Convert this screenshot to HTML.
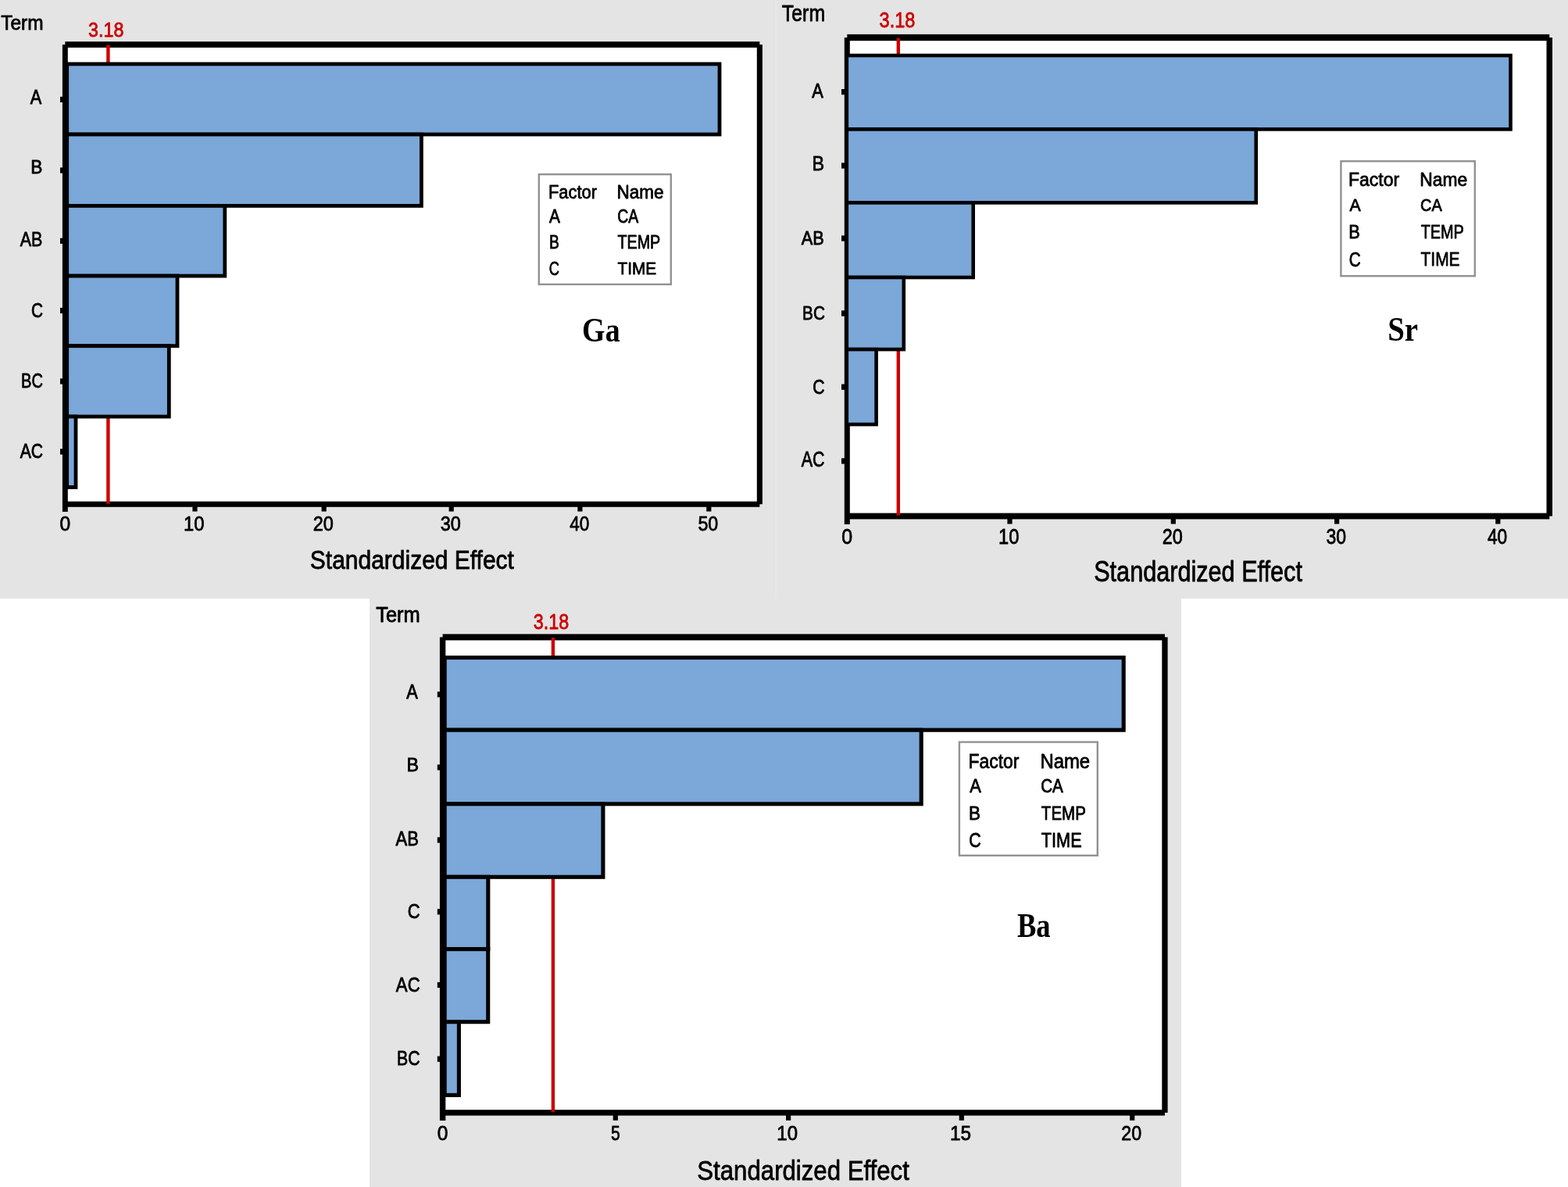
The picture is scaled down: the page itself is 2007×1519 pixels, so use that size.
<!DOCTYPE html>
<html><head><meta charset="utf-8"><style>
html,body{margin:0;padding:0;background:#fff;}
svg{display:block;}
</style></head><body>
<svg width="2007" height="1519" viewBox="0 0 2007 1519">
<rect x="0.00" y="0.00" width="2007.00" height="766.00" fill="#e4e4e4"/>
<rect x="473.00" y="766.00" width="1039.00" height="753.00" fill="#e4e4e4"/>
<rect x="992.30" y="0.00" width="1.50" height="766.00" fill="#e9e9e9"/>
<rect x="83.35" y="57.05" width="889.00" height="588.20" fill="#fff"/>
<rect x="83.35" y="53.20" width="889.00" height="7.70" fill="#000"/>
<rect x="83.35" y="641.70" width="889.00" height="7.10" fill="#000"/>
<rect x="79.90" y="57.05" width="6.90" height="597.85" fill="#000"/>
<rect x="968.80" y="57.05" width="7.10" height="588.20" fill="#000"/>
<rect x="136.20" y="57.55" width="4.40" height="587.15" fill="#cc0000"/>
<rect x="85.70" y="81.90" width="835.30" height="90.10" fill="#7ba7d9" stroke="#000" stroke-width="4.8"/>
<rect x="85.70" y="172.00" width="453.70" height="91.40" fill="#7ba7d9" stroke="#000" stroke-width="4.8"/>
<rect x="85.70" y="263.40" width="202.10" height="89.70" fill="#7ba7d9" stroke="#000" stroke-width="4.8"/>
<rect x="85.70" y="353.10" width="141.30" height="89.60" fill="#7ba7d9" stroke="#000" stroke-width="4.8"/>
<rect x="85.70" y="442.70" width="130.60" height="90.40" fill="#7ba7d9" stroke="#000" stroke-width="4.8"/>
<rect x="85.70" y="533.10" width="11.30" height="90.40" fill="#7ba7d9" stroke="#000" stroke-width="4.8"/>
<rect x="246.40" y="647.80" width="6.20" height="6.70" fill="#000"/>
<rect x="411.60" y="647.80" width="6.20" height="6.70" fill="#000"/>
<rect x="574.60" y="647.80" width="6.20" height="6.70" fill="#000"/>
<rect x="739.30" y="647.80" width="6.20" height="6.70" fill="#000"/>
<rect x="904.20" y="647.80" width="6.20" height="6.70" fill="#000"/>
<rect x="77.00" y="123.80" width="3.40" height="7.20" fill="#000"/>
<rect x="77.00" y="214.40" width="3.40" height="7.20" fill="#000"/>
<rect x="77.00" y="304.70" width="3.40" height="7.20" fill="#000"/>
<rect x="77.00" y="393.90" width="3.40" height="7.20" fill="#000"/>
<rect x="77.00" y="484.40" width="3.40" height="7.20" fill="#000"/>
<rect x="77.00" y="574.40" width="3.40" height="7.20" fill="#000"/>
<text x="1.23" y="37.62" font-family="&quot;Liberation Sans&quot;, Arial, sans-serif" font-size="25.56" fill="#000" stroke="#000" stroke-width="0.8" stroke-linejoin="round" textLength="54.33" lengthAdjust="spacingAndGlyphs">Term</text>
<text x="113.10" y="47.22" font-family="&quot;Liberation Sans&quot;, Arial, sans-serif" font-size="24.98" fill="#cc0000" stroke="#cc0000" stroke-width="0.8" stroke-linejoin="round" textLength="45.22" lengthAdjust="spacingAndGlyphs">3.18</text>
<text x="38.83" y="132.76" font-family="&quot;Liberation Sans&quot;, Arial, sans-serif" font-size="25.46" fill="#000" stroke="#000" stroke-width="0.8" stroke-linejoin="round" textLength="14.51" lengthAdjust="spacingAndGlyphs">A</text>
<text x="39.26" y="222.31" font-family="&quot;Liberation Sans&quot;, Arial, sans-serif" font-size="24.15" fill="#000" stroke="#000" stroke-width="0.8" stroke-linejoin="round" textLength="15.11" lengthAdjust="spacingAndGlyphs">B</text>
<text x="25.77" y="314.68" font-family="&quot;Liberation Sans&quot;, Arial, sans-serif" font-size="26.20" fill="#000" stroke="#000" stroke-width="0.8" stroke-linejoin="round" textLength="28.71" lengthAdjust="spacingAndGlyphs">AB</text>
<text x="40.10" y="405.70" font-family="&quot;Liberation Sans&quot;, Arial, sans-serif" font-size="25.36" fill="#000" stroke="#000" stroke-width="0.8" stroke-linejoin="round" textLength="15.09" lengthAdjust="spacingAndGlyphs">C</text>
<text x="27.07" y="495.95" font-family="&quot;Liberation Sans&quot;, Arial, sans-serif" font-size="26.56" fill="#000" stroke="#000" stroke-width="0.8" stroke-linejoin="round" textLength="27.96" lengthAdjust="spacingAndGlyphs">BC</text>
<text x="25.67" y="585.81" font-family="&quot;Liberation Sans&quot;, Arial, sans-serif" font-size="24.99" fill="#000" stroke="#000" stroke-width="0.8" stroke-linejoin="round" textLength="29.48" lengthAdjust="spacingAndGlyphs">AC</text>
<text x="396.84" y="728.49" font-family="&quot;Liberation Sans&quot;, Arial, sans-serif" font-size="33.97" fill="#000" stroke="#000" stroke-width="0.8" stroke-linejoin="round" textLength="261.10" lengthAdjust="spacingAndGlyphs">Standardized Effect</text>
<text x="745.12" y="436.84" font-family="&quot;Liberation Serif&quot;, &quot;Times New Roman&quot;, serif" font-size="44.36" font-weight="bold" fill="#000" textLength="48.52" lengthAdjust="spacingAndGlyphs">Ga</text>
<text x="76.55" y="679.22" font-family="&quot;Liberation Sans&quot;, Arial, sans-serif" font-size="26.04" fill="#000" stroke="#000" stroke-width="0.8" stroke-linejoin="round" textLength="13.69" lengthAdjust="spacingAndGlyphs">0</text>
<text x="234.89" y="679.40" font-family="&quot;Liberation Sans&quot;, Arial, sans-serif" font-size="25.82" fill="#000" stroke="#000" stroke-width="0.8" stroke-linejoin="round" textLength="26.51" lengthAdjust="spacingAndGlyphs">10</text>
<text x="400.64" y="679.31" font-family="&quot;Liberation Sans&quot;, Arial, sans-serif" font-size="25.88" fill="#000" stroke="#000" stroke-width="0.8" stroke-linejoin="round" textLength="26.16" lengthAdjust="spacingAndGlyphs">20</text>
<text x="563.73" y="679.46" font-family="&quot;Liberation Sans&quot;, Arial, sans-serif" font-size="26.10" fill="#000" stroke="#000" stroke-width="0.8" stroke-linejoin="round" textLength="26.15" lengthAdjust="spacingAndGlyphs">30</text>
<text x="729.13" y="679.40" font-family="&quot;Liberation Sans&quot;, Arial, sans-serif" font-size="25.82" fill="#000" stroke="#000" stroke-width="0.8" stroke-linejoin="round" textLength="25.05" lengthAdjust="spacingAndGlyphs">40</text>
<text x="893.43" y="679.44" font-family="&quot;Liberation Sans&quot;, Arial, sans-serif" font-size="25.90" fill="#000" stroke="#000" stroke-width="0.8" stroke-linejoin="round" textLength="25.85" lengthAdjust="spacingAndGlyphs">50</text>
<rect x="689.80" y="223.10" width="169.00" height="140.80" fill="#fff" stroke="#929292" stroke-width="2.4"/>
<text x="701.90" y="253.70" font-family="&quot;Liberation Sans&quot;, Arial, sans-serif" font-size="23.55" fill="#000" stroke="#000" stroke-width="0.8" stroke-linejoin="round" textLength="62.16" lengthAdjust="spacingAndGlyphs">Factor</text>
<text x="789.55" y="253.84" font-family="&quot;Liberation Sans&quot;, Arial, sans-serif" font-size="23.61" fill="#000" stroke="#000" stroke-width="0.8" stroke-linejoin="round" textLength="59.88" lengthAdjust="spacingAndGlyphs">Name</text>
<text x="702.96" y="284.50" font-family="&quot;Liberation Sans&quot;, Arial, sans-serif" font-size="24.13" fill="#000" stroke="#000" stroke-width="0.8" stroke-linejoin="round" textLength="13.88" lengthAdjust="spacingAndGlyphs">A</text>
<text x="790.31" y="284.65" font-family="&quot;Liberation Sans&quot;, Arial, sans-serif" font-size="24.04" fill="#000" stroke="#000" stroke-width="0.8" stroke-linejoin="round" textLength="26.92" lengthAdjust="spacingAndGlyphs">CA</text>
<text x="702.90" y="317.81" font-family="&quot;Liberation Sans&quot;, Arial, sans-serif" font-size="23.68" fill="#000" stroke="#000" stroke-width="0.8" stroke-linejoin="round" textLength="12.84" lengthAdjust="spacingAndGlyphs">B</text>
<text x="790.48" y="317.81" font-family="&quot;Liberation Sans&quot;, Arial, sans-serif" font-size="23.68" fill="#000" stroke="#000" stroke-width="0.8" stroke-linejoin="round" textLength="54.77" lengthAdjust="spacingAndGlyphs">TEMP</text>
<text x="702.77" y="351.70" font-family="&quot;Liberation Sans&quot;, Arial, sans-serif" font-size="24.17" fill="#000" stroke="#000" stroke-width="0.8" stroke-linejoin="round" textLength="13.19" lengthAdjust="spacingAndGlyphs">C</text>
<text x="790.46" y="351.37" font-family="&quot;Liberation Sans&quot;, Arial, sans-serif" font-size="22.48" fill="#000" stroke="#000" stroke-width="0.8" stroke-linejoin="round" textLength="49.65" lengthAdjust="spacingAndGlyphs">TIME</text>
<rect x="1084.30" y="48.05" width="898.95" height="612.45" fill="#fff"/>
<rect x="1084.30" y="43.90" width="898.95" height="8.30" fill="#000"/>
<rect x="1084.30" y="656.60" width="898.95" height="7.80" fill="#000"/>
<rect x="1080.80" y="48.05" width="7.00" height="622.95" fill="#000"/>
<rect x="1979.50" y="48.05" width="7.50" height="612.45" fill="#000"/>
<rect x="1147.60" y="48.55" width="4.40" height="611.05" fill="#cc0000"/>
<rect x="1083.80" y="71.00" width="849.70" height="94.40" fill="#7ba7d9" stroke="#000" stroke-width="4.6"/>
<rect x="1083.80" y="165.40" width="523.90" height="94.00" fill="#7ba7d9" stroke="#000" stroke-width="4.6"/>
<rect x="1083.80" y="259.40" width="161.90" height="95.60" fill="#7ba7d9" stroke="#000" stroke-width="4.6"/>
<rect x="1083.80" y="355.00" width="73.00" height="92.10" fill="#7ba7d9" stroke="#000" stroke-width="4.6"/>
<rect x="1083.80" y="447.10" width="37.80" height="96.00" fill="#7ba7d9" stroke="#000" stroke-width="4.6"/>
<rect x="1289.40" y="663.40" width="6.20" height="7.10" fill="#000"/>
<rect x="1498.70" y="663.40" width="6.20" height="7.10" fill="#000"/>
<rect x="1708.00" y="663.40" width="6.20" height="7.10" fill="#000"/>
<rect x="1914.20" y="663.40" width="6.20" height="7.10" fill="#000"/>
<rect x="1077.00" y="114.00" width="4.30" height="7.20" fill="#000"/>
<rect x="1077.00" y="208.40" width="4.30" height="7.20" fill="#000"/>
<rect x="1077.00" y="301.40" width="4.30" height="7.20" fill="#000"/>
<rect x="1077.00" y="397.40" width="4.30" height="7.20" fill="#000"/>
<rect x="1077.00" y="491.60" width="4.30" height="7.20" fill="#000"/>
<rect x="1077.00" y="586.40" width="4.30" height="7.20" fill="#000"/>
<text x="1000.86" y="26.63" font-family="&quot;Liberation Sans&quot;, Arial, sans-serif" font-size="28.64" fill="#000" stroke="#000" stroke-width="0.8" stroke-linejoin="round" textLength="55.24" lengthAdjust="spacingAndGlyphs">Term</text>
<text x="1125.54" y="34.66" font-family="&quot;Liberation Sans&quot;, Arial, sans-serif" font-size="26.95" fill="#cc0000" stroke="#cc0000" stroke-width="0.8" stroke-linejoin="round" textLength="45.84" lengthAdjust="spacingAndGlyphs">3.18</text>
<text x="1039.29" y="125.16" font-family="&quot;Liberation Sans&quot;, Arial, sans-serif" font-size="25.46" fill="#000" stroke="#000" stroke-width="0.8" stroke-linejoin="round" textLength="14.55" lengthAdjust="spacingAndGlyphs">A</text>
<text x="1039.43" y="218.36" font-family="&quot;Liberation Sans&quot;, Arial, sans-serif" font-size="26.62" fill="#000" stroke="#000" stroke-width="0.8" stroke-linejoin="round" textLength="15.62" lengthAdjust="spacingAndGlyphs">B</text>
<text x="1025.82" y="312.68" font-family="&quot;Liberation Sans&quot;, Arial, sans-serif" font-size="23.79" fill="#000" stroke="#000" stroke-width="0.8" stroke-linejoin="round" textLength="29.03" lengthAdjust="spacingAndGlyphs">AB</text>
<text x="1027.09" y="408.68" font-family="&quot;Liberation Sans&quot;, Arial, sans-serif" font-size="24.79" fill="#000" stroke="#000" stroke-width="0.8" stroke-linejoin="round" textLength="28.89" lengthAdjust="spacingAndGlyphs">BC</text>
<text x="1040.24" y="503.56" font-family="&quot;Liberation Sans&quot;, Arial, sans-serif" font-size="25.33" fill="#000" stroke="#000" stroke-width="0.8" stroke-linejoin="round" textLength="15.34" lengthAdjust="spacingAndGlyphs">C</text>
<text x="1025.77" y="596.62" font-family="&quot;Liberation Sans&quot;, Arial, sans-serif" font-size="26.76" fill="#000" stroke="#000" stroke-width="0.8" stroke-linejoin="round" textLength="29.81" lengthAdjust="spacingAndGlyphs">AC</text>
<text x="1400.17" y="744.40" font-family="&quot;Liberation Sans&quot;, Arial, sans-serif" font-size="37.30" fill="#000" stroke="#000" stroke-width="0.8" stroke-linejoin="round" textLength="266.75" lengthAdjust="spacingAndGlyphs">Standardized Effect</text>
<text x="1776.27" y="436.20" font-family="&quot;Liberation Serif&quot;, &quot;Times New Roman&quot;, serif" font-size="43.81" font-weight="bold" fill="#000" textLength="38.84" lengthAdjust="spacingAndGlyphs">Sr</text>
<text x="1077.33" y="696.21" font-family="&quot;Liberation Sans&quot;, Arial, sans-serif" font-size="27.14" fill="#000" stroke="#000" stroke-width="0.8" stroke-linejoin="round" textLength="13.89" lengthAdjust="spacingAndGlyphs">0</text>
<text x="1278.01" y="696.09" font-family="&quot;Liberation Sans&quot;, Arial, sans-serif" font-size="27.25" fill="#000" stroke="#000" stroke-width="0.8" stroke-linejoin="round" textLength="26.39" lengthAdjust="spacingAndGlyphs">10</text>
<text x="1487.70" y="696.36" font-family="&quot;Liberation Sans&quot;, Arial, sans-serif" font-size="27.01" fill="#000" stroke="#000" stroke-width="0.8" stroke-linejoin="round" textLength="26.10" lengthAdjust="spacingAndGlyphs">20</text>
<text x="1697.42" y="696.30" font-family="&quot;Liberation Sans&quot;, Arial, sans-serif" font-size="27.07" fill="#000" stroke="#000" stroke-width="0.8" stroke-linejoin="round" textLength="25.57" lengthAdjust="spacingAndGlyphs">30</text>
<text x="1904.01" y="696.09" font-family="&quot;Liberation Sans&quot;, Arial, sans-serif" font-size="27.25" fill="#000" stroke="#000" stroke-width="0.8" stroke-linejoin="round" textLength="25.23" lengthAdjust="spacingAndGlyphs">40</text>
<rect x="1716.40" y="206.30" width="171.40" height="146.90" fill="#fff" stroke="#929292" stroke-width="2.4"/>
<text x="1725.97" y="238.09" font-family="&quot;Liberation Sans&quot;, Arial, sans-serif" font-size="23.88" fill="#000" stroke="#000" stroke-width="0.8" stroke-linejoin="round" textLength="65.10" lengthAdjust="spacingAndGlyphs">Factor</text>
<text x="1817.22" y="238.23" font-family="&quot;Liberation Sans&quot;, Arial, sans-serif" font-size="23.65" fill="#000" stroke="#000" stroke-width="0.8" stroke-linejoin="round" textLength="60.86" lengthAdjust="spacingAndGlyphs">Name</text>
<text x="1727.60" y="269.96" font-family="&quot;Liberation Sans&quot;, Arial, sans-serif" font-size="22.84" fill="#000" stroke="#000" stroke-width="0.8" stroke-linejoin="round" textLength="14.15" lengthAdjust="spacingAndGlyphs">A</text>
<text x="1818.09" y="269.96" font-family="&quot;Liberation Sans&quot;, Arial, sans-serif" font-size="22.51" fill="#000" stroke="#000" stroke-width="0.8" stroke-linejoin="round" textLength="27.63" lengthAdjust="spacingAndGlyphs">CA</text>
<text x="1726.34" y="305.34" font-family="&quot;Liberation Sans&quot;, Arial, sans-serif" font-size="23.79" fill="#000" stroke="#000" stroke-width="0.8" stroke-linejoin="round" textLength="14.50" lengthAdjust="spacingAndGlyphs">B</text>
<text x="1818.67" y="305.41" font-family="&quot;Liberation Sans&quot;, Arial, sans-serif" font-size="23.47" fill="#000" stroke="#000" stroke-width="0.8" stroke-linejoin="round" textLength="55.13" lengthAdjust="spacingAndGlyphs">TEMP</text>
<text x="1726.65" y="340.65" font-family="&quot;Liberation Sans&quot;, Arial, sans-serif" font-size="24.95" fill="#000" stroke="#000" stroke-width="0.8" stroke-linejoin="round" textLength="14.96" lengthAdjust="spacingAndGlyphs">C</text>
<text x="1818.57" y="340.36" font-family="&quot;Liberation Sans&quot;, Arial, sans-serif" font-size="24.59" fill="#000" stroke="#000" stroke-width="0.8" stroke-linejoin="round" textLength="49.98" lengthAdjust="spacingAndGlyphs">TIME</text>
<rect x="566.60" y="815.40" width="924.35" height="608.50" fill="#fff"/>
<rect x="566.60" y="811.40" width="924.35" height="8.00" fill="#000"/>
<rect x="566.60" y="1420.20" width="924.35" height="7.40" fill="#000"/>
<rect x="562.90" y="815.40" width="7.40" height="618.60" fill="#000"/>
<rect x="1487.30" y="815.40" width="7.30" height="608.50" fill="#000"/>
<rect x="705.70" y="815.90" width="4.40" height="607.30" fill="#cc0000"/>
<rect x="569.15" y="841.50" width="869.05" height="92.70" fill="#7ba7d9" stroke="#000" stroke-width="5.1"/>
<rect x="569.15" y="934.20" width="610.05" height="94.60" fill="#7ba7d9" stroke="#000" stroke-width="5.1"/>
<rect x="569.15" y="1028.80" width="202.75" height="93.50" fill="#7ba7d9" stroke="#000" stroke-width="5.1"/>
<rect x="569.15" y="1122.30" width="55.65" height="92.30" fill="#7ba7d9" stroke="#000" stroke-width="5.1"/>
<rect x="569.15" y="1214.60" width="55.55" height="93.10" fill="#7ba7d9" stroke="#000" stroke-width="5.1"/>
<rect x="569.15" y="1307.70" width="18.25" height="93.70" fill="#7ba7d9" stroke="#000" stroke-width="5.1"/>
<rect x="784.70" y="1426.60" width="6.20" height="7.20" fill="#000"/>
<rect x="1006.00" y="1426.60" width="6.20" height="7.20" fill="#000"/>
<rect x="1227.70" y="1426.60" width="6.20" height="7.20" fill="#000"/>
<rect x="1446.10" y="1426.60" width="6.20" height="7.20" fill="#000"/>
<rect x="559.80" y="885.10" width="3.60" height="7.20" fill="#000"/>
<rect x="559.80" y="978.40" width="3.60" height="7.20" fill="#000"/>
<rect x="559.80" y="1071.40" width="3.60" height="7.20" fill="#000"/>
<rect x="559.80" y="1163.20" width="3.60" height="7.20" fill="#000"/>
<rect x="559.80" y="1256.90" width="3.60" height="7.20" fill="#000"/>
<rect x="559.80" y="1351.60" width="3.60" height="7.20" fill="#000"/>
<text x="481.19" y="795.76" font-family="&quot;Liberation Sans&quot;, Arial, sans-serif" font-size="26.91" fill="#000" stroke="#000" stroke-width="0.8" stroke-linejoin="round" textLength="56.59" lengthAdjust="spacingAndGlyphs">Term</text>
<text x="682.81" y="805.37" font-family="&quot;Liberation Sans&quot;, Arial, sans-serif" font-size="27.48" fill="#cc0000" stroke="#cc0000" stroke-width="0.8" stroke-linejoin="round" textLength="45.48" lengthAdjust="spacingAndGlyphs">3.18</text>
<text x="520.29" y="893.96" font-family="&quot;Liberation Sans&quot;, Arial, sans-serif" font-size="25.46" fill="#000" stroke="#000" stroke-width="0.8" stroke-linejoin="round" textLength="14.55" lengthAdjust="spacingAndGlyphs">A</text>
<text x="520.45" y="987.13" font-family="&quot;Liberation Sans&quot;, Arial, sans-serif" font-size="23.07" fill="#000" stroke="#000" stroke-width="0.8" stroke-linejoin="round" textLength="15.48" lengthAdjust="spacingAndGlyphs">B</text>
<text x="506.52" y="1082.15" font-family="&quot;Liberation Sans&quot;, Arial, sans-serif" font-size="25.11" fill="#000" stroke="#000" stroke-width="0.8" stroke-linejoin="round" textLength="29.42" lengthAdjust="spacingAndGlyphs">AB</text>
<text x="521.72" y="1175.39" font-family="&quot;Liberation Sans&quot;, Arial, sans-serif" font-size="26.16" fill="#000" stroke="#000" stroke-width="0.8" stroke-linejoin="round" textLength="15.91" lengthAdjust="spacingAndGlyphs">C</text>
<text x="506.87" y="1269.09" font-family="&quot;Liberation Sans&quot;, Arial, sans-serif" font-size="26.11" fill="#000" stroke="#000" stroke-width="0.8" stroke-linejoin="round" textLength="30.76" lengthAdjust="spacingAndGlyphs">AC</text>
<text x="507.97" y="1362.76" font-family="&quot;Liberation Sans&quot;, Arial, sans-serif" font-size="25.66" fill="#000" stroke="#000" stroke-width="0.8" stroke-linejoin="round" textLength="29.62" lengthAdjust="spacingAndGlyphs">BC</text>
<text x="892.34" y="1510.13" font-family="&quot;Liberation Sans&quot;, Arial, sans-serif" font-size="35.76" fill="#000" stroke="#000" stroke-width="0.8" stroke-linejoin="round" textLength="271.52" lengthAdjust="spacingAndGlyphs">Standardized Effect</text>
<text x="1301.89" y="1199.00" font-family="&quot;Liberation Serif&quot;, &quot;Times New Roman&quot;, serif" font-size="43.83" font-weight="bold" fill="#000" textLength="42.66" lengthAdjust="spacingAndGlyphs">Ba</text>
<text x="559.80" y="1459.34" font-family="&quot;Liberation Sans&quot;, Arial, sans-serif" font-size="25.34" fill="#000" stroke="#000" stroke-width="0.8" stroke-linejoin="round" textLength="13.64" lengthAdjust="spacingAndGlyphs">0</text>
<text x="781.95" y="1459.43" font-family="&quot;Liberation Sans&quot;, Arial, sans-serif" font-size="25.37" fill="#000" stroke="#000" stroke-width="0.8" stroke-linejoin="round" textLength="11.74" lengthAdjust="spacingAndGlyphs">5</text>
<text x="994.36" y="1459.49" font-family="&quot;Liberation Sans&quot;, Arial, sans-serif" font-size="25.11" fill="#000" stroke="#000" stroke-width="0.8" stroke-linejoin="round" textLength="26.66" lengthAdjust="spacingAndGlyphs">10</text>
<text x="1216.07" y="1459.41" font-family="&quot;Liberation Sans&quot;, Arial, sans-serif" font-size="24.93" fill="#000" stroke="#000" stroke-width="0.8" stroke-linejoin="round" textLength="27.00" lengthAdjust="spacingAndGlyphs">15</text>
<text x="1435.23" y="1459.20" font-family="&quot;Liberation Sans&quot;, Arial, sans-serif" font-size="25.49" fill="#000" stroke="#000" stroke-width="0.8" stroke-linejoin="round" textLength="25.88" lengthAdjust="spacingAndGlyphs">20</text>
<rect x="1227.90" y="949.60" width="176.90" height="145.20" fill="#fff" stroke="#929292" stroke-width="2.4"/>
<text x="1239.40" y="982.76" font-family="&quot;Liberation Sans&quot;, Arial, sans-serif" font-size="26.04" fill="#000" stroke="#000" stroke-width="0.8" stroke-linejoin="round" textLength="65.09" lengthAdjust="spacingAndGlyphs">Factor</text>
<text x="1331.39" y="982.81" font-family="&quot;Liberation Sans&quot;, Arial, sans-serif" font-size="26.09" fill="#000" stroke="#000" stroke-width="0.8" stroke-linejoin="round" textLength="63.81" lengthAdjust="spacingAndGlyphs">Name</text>
<text x="1241.30" y="1014.16" font-family="&quot;Liberation Sans&quot;, Arial, sans-serif" font-size="24.59" fill="#000" stroke="#000" stroke-width="0.8" stroke-linejoin="round" textLength="14.54" lengthAdjust="spacingAndGlyphs">A</text>
<text x="1332.17" y="1014.16" font-family="&quot;Liberation Sans&quot;, Arial, sans-serif" font-size="24.23" fill="#000" stroke="#000" stroke-width="0.8" stroke-linejoin="round" textLength="28.67" lengthAdjust="spacingAndGlyphs">CA</text>
<text x="1239.94" y="1048.81" font-family="&quot;Liberation Sans&quot;, Arial, sans-serif" font-size="24.76" fill="#000" stroke="#000" stroke-width="0.8" stroke-linejoin="round" textLength="14.98" lengthAdjust="spacingAndGlyphs">B</text>
<text x="1332.86" y="1048.90" font-family="&quot;Liberation Sans&quot;, Arial, sans-serif" font-size="24.52" fill="#000" stroke="#000" stroke-width="0.8" stroke-linejoin="round" textLength="56.95" lengthAdjust="spacingAndGlyphs">TEMP</text>
<text x="1240.15" y="1083.96" font-family="&quot;Liberation Sans&quot;, Arial, sans-serif" font-size="25.51" fill="#000" stroke="#000" stroke-width="0.8" stroke-linejoin="round" textLength="15.46" lengthAdjust="spacingAndGlyphs">C</text>
<text x="1332.87" y="1083.95" font-family="&quot;Liberation Sans&quot;, Arial, sans-serif" font-size="25.56" fill="#000" stroke="#000" stroke-width="0.8" stroke-linejoin="round" textLength="51.71" lengthAdjust="spacingAndGlyphs">TIME</text>
</svg>
</body></html>
